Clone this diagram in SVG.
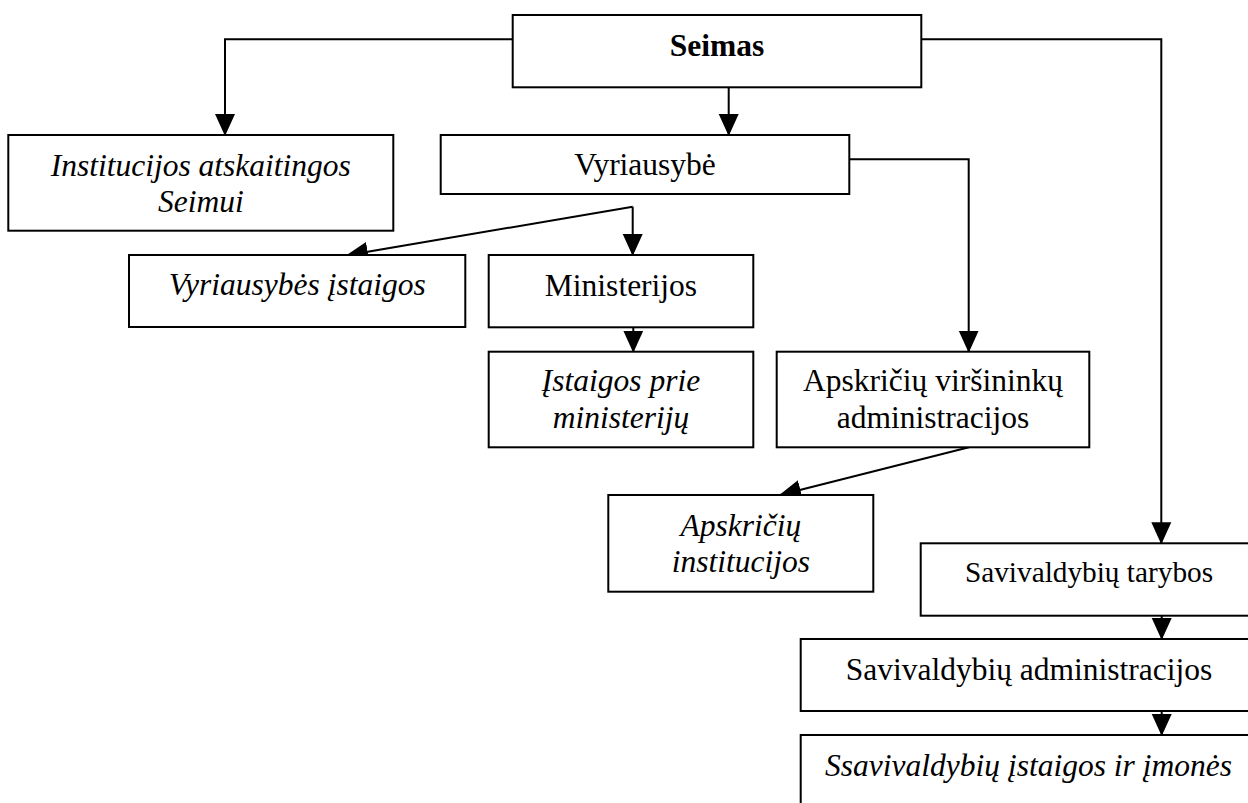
<svg xmlns="http://www.w3.org/2000/svg" width="1248" height="803" viewBox="0 0 1248 803">
<style>
.box{fill:#fff;stroke:#000;stroke-width:2}
.t{font-family:"Liberation Serif","Times New Roman",serif;font-size:31.5px;fill:#000;text-anchor:middle}
.i{font-style:italic}
.b{font-weight:bold}
.c{fill:none;stroke:#000;stroke-width:2;marker-end:url(#ah)}
</style>
<defs>
<marker id="ah" markerUnits="userSpaceOnUse" markerWidth="22" markerHeight="22" viewBox="0 0 22 20" refX="21" refY="10" orient="auto">
<path d="M0,0 L22,10 L0,20 Z" fill="#000"/>
</marker>
</defs>
<rect width="1248" height="803" fill="#fff"/>
<g id="connectors">
<polyline class="c" points="512.7,39.3 225,39.3 225,135"/>
<polyline class="c" points="921.3,39.3 1161.3,39.3 1161.3,543.3"/>
<line class="c" x1="728.7" y1="87.3" x2="728.7" y2="135"/>
<polyline class="c" points="849.3,159.3 968.7,159.3 968.7,351.7"/>
<line class="c" x1="632.7" y1="206.7" x2="632.7" y2="255"/>
<line class="c" x1="632.7" y1="206.7" x2="347" y2="255.3"/>
<line class="c" x1="633.3" y1="327.3" x2="633.3" y2="351.7"/>
<line class="c" x1="969" y1="447.3" x2="780" y2="495"/>
<line class="c" x1="1161.7" y1="615.7" x2="1161.7" y2="639"/>
<line class="c" x1="1161.7" y1="711" x2="1161.7" y2="735"/>
</g>
<g id="seimas">
<rect class="box" x="512.7" y="15" width="408.6" height="72.3"/>
<text class="t b" x="717" y="55.7">Seimas</text>
</g>
<g id="institucijos">
<rect class="box" x="8.3" y="135" width="385" height="95.7"/>
<text class="t i" x="200.8" y="176">Institucijos atskaitingos</text>
<text class="t i" x="200.8" y="212">Seimui</text>
</g>
<g id="vyriausybe">
<rect class="box" x="440.7" y="135" width="408.6" height="59"/>
<text class="t" x="645" y="175">Vyriausybė</text>
</g>
<g id="vyr-istaigos">
<rect class="box" x="129" y="255" width="336.3" height="72"/>
<text class="t i" x="297.2" y="295">Vyriausybės įstaigos</text>
</g>
<g id="ministerijos">
<rect class="box" x="488.7" y="255" width="264.6" height="72.3"/>
<text class="t" x="621" y="296">Ministerijos</text>
</g>
<g id="istaigos-prie">
<rect class="box" x="488.7" y="351.7" width="264.6" height="95.6"/>
<text class="t i" x="621" y="391">Įstaigos prie</text>
<text class="t i" x="621" y="428.3">ministerijų</text>
</g>
<g id="apskr-virs">
<rect class="box" x="776.7" y="351.7" width="312.6" height="95.6"/>
<text class="t" x="933" y="391">Apskričių viršininkų</text>
<text class="t" x="933" y="428.3">administracijos</text>
</g>
<g id="apskr-inst">
<rect class="box" x="608.3" y="495" width="265" height="96.7"/>
<text class="t i" x="740.8" y="536">Apskričių</text>
<text class="t i" x="740.8" y="571.7">institucijos</text>
</g>
<g id="sav-tarybos">
<rect class="box" x="920.7" y="543.3" width="337" height="72.4"/>
<text class="t" style="font-size:29.3px" x="1089" y="581.7">Savivaldybių tarybos</text>
</g>
<g id="sav-admin">
<rect class="box" x="800.7" y="639" width="457" height="72"/>
<text class="t" x="1029" y="680">Savivaldybių administracijos</text>
</g>
<g id="sav-istaigos">
<rect class="box" x="800.7" y="735" width="457" height="90"/>
<text class="t i" x="1028.5" y="775.7">Ssavivaldybių įstaigos ir įmonės</text>
</g>
</svg>
